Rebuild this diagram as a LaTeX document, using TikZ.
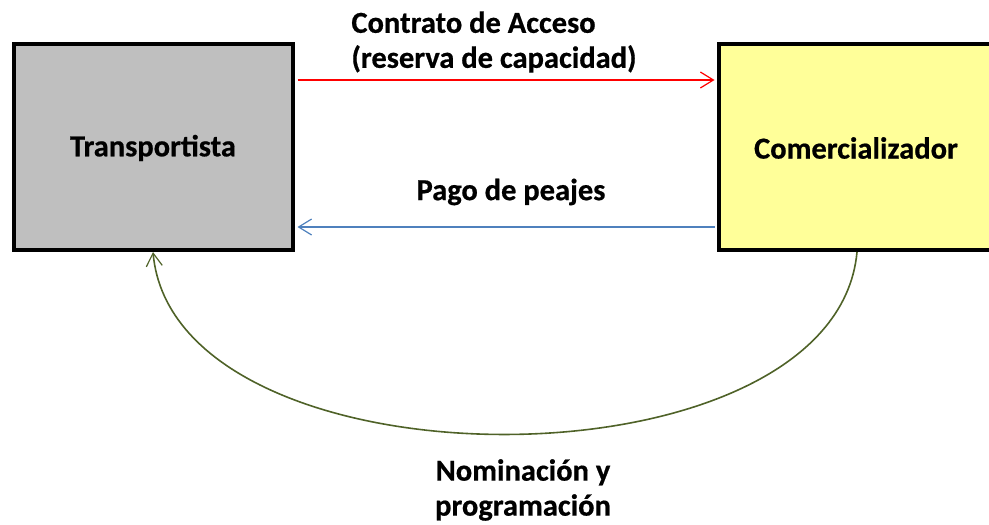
\documentclass[tikz,border=0pt]{standalone}
\usepackage{fontspec}
\setmainfont{Carlito}[BoldFeatures={FakeBold=0.6}]
\usetikzlibrary{arrows.meta}
\definecolor{boxgray}{RGB}{191,191,191}
\definecolor{boxyellow}{RGB}{255,255,153}
\definecolor{linkred}{RGB}{255,0,0}
\definecolor{linkblue}{RGB}{79,129,189}
\definecolor{linkgreen}{RGB}{79,98,40}
\tikzset{
  entity/.style={draw=black, line width=4.5pt, inner sep=0pt},
  lbl/.style={font=\fontsize{30.5}{35}\selectfont\bfseries, inner sep=0pt},
  flow/.style={line width=1.2pt, -{Straight Barb[length=13pt,width=16pt,line width=1.2pt]}}
}
\begin{document}
\begin{tikzpicture}[x=1pt,y=-1pt]
\useasboundingbox (0,0) rectangle (989,525);
\begin{scope}
\clip (0,0) rectangle (989,525);
\node[entity, fill=boxgray, minimum width=279pt, minimum height=206pt] (T) at (153.5,147) {};
\node[entity, fill=boxyellow, minimum width=400pt, minimum height=206pt] (C) at (919,147) {};
\end{scope}
\node[lbl] (tT) at (153,148) {Transportista};
\node[lbl] (tC) at (856,148) {Comercializador};
\coordinate (r1) at ([xshift=2.25pt]T.east |- 0,80);
\coordinate (r2) at ([xshift=-2.25pt]C.west |- 0,80);
\draw[flow, draw=linkred] (r1) -- (r2);
\coordinate (b1) at ([xshift=-2.25pt]C.west |- 0,227);
\coordinate (b2) at ([xshift=2.25pt]T.east |- 0,227);
\draw[flow, draw=linkblue] (b1) -- (b2);
\coordinate (g1) at (857,252);
\coordinate (g2) at (153,252);
\draw[flow, draw=linkgreen, line width=1.6pt] (g1) .. controls (835,495) and (175,495) .. (g2);
\node[lbl, align=left] (l1) at (494,42) {Contrato de Acceso\\(reserva de capacidad)};
\node[lbl] (l2) at (511,192) {Pago de peajes};
\node[lbl, align=center] (l3) at (523,490) {Nominación y\\programación};
\end{tikzpicture}
\end{document}
